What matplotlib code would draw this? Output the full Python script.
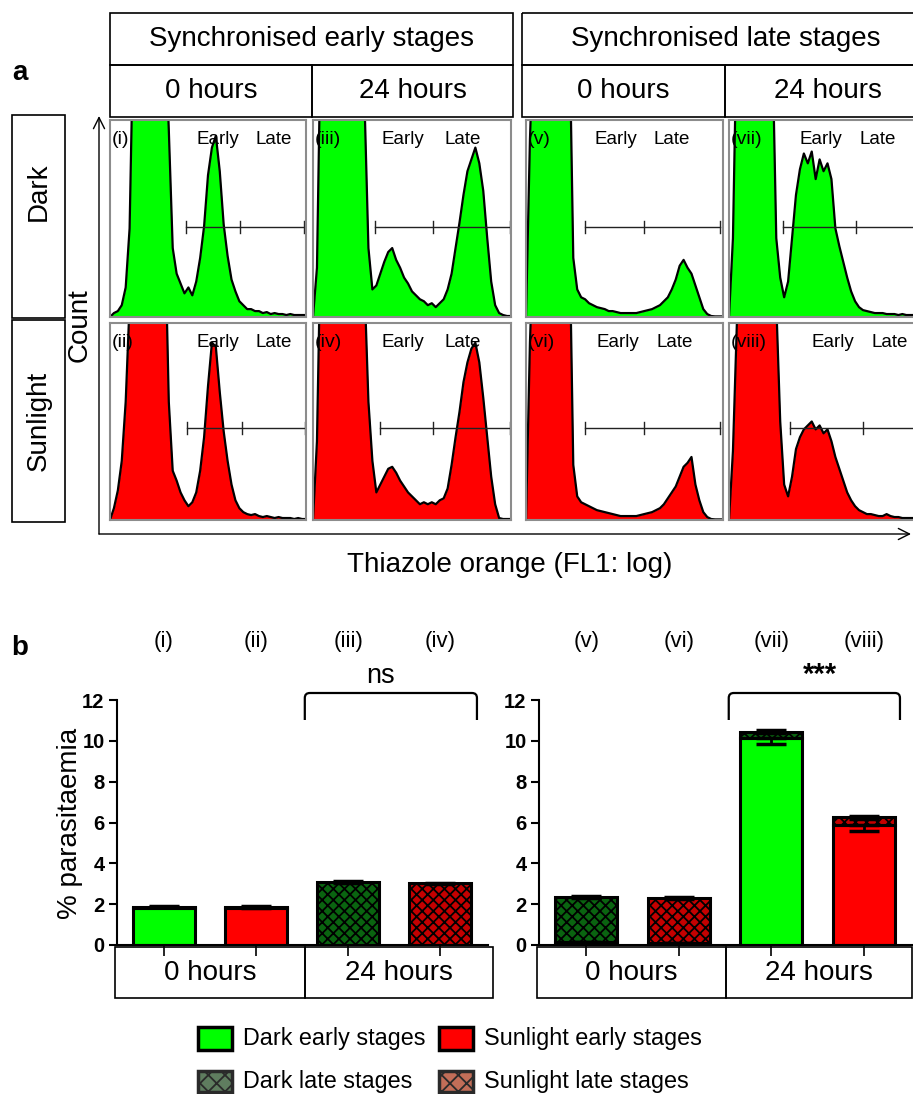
import numpy as np
import matplotlib

matplotlib.use("Agg")
import matplotlib.pyplot as plt
import matplotlib.transforms as mtransforms
from matplotlib.patches import Rectangle, PathPatch
from matplotlib.path import Path

plt.rcParams["font.family"] = ["Liberation Sans", "DejaVu Sans"]
plt.rcParams["hatch.linewidth"] = 1.3

# ---------------------------------------------------------------- data
# flow histograms, % of panel height per FL1 channel (values > 100 are off-scale)
CHANNELS = list(range(0, 251, 5))

HIST_I = [0, 2, 3, 6, 15, 45, 150, 150, 150, 150, 150, 150, 150, 150, 150,
          95, 35, 22, 17, 12, 15, 11, 18, 30, 46, 72, 86, 92, 74, 47, 31, 19,
          13, 8, 6, 4, 4, 3, 3, 2, 2.5, 1.5, 2, 1.5, 1.5, 1, 1.5, 1, 1, 1, 1]
HIST_II = [0, 6, 15, 30, 60, 110, 150, 150, 150, 150, 150, 150, 150, 150, 150,
           60, 25, 20, 14, 10, 7, 9, 14, 25, 42, 68, 90, 88, 65, 45, 30, 18,
           10, 6, 4, 3, 2.5, 3, 2, 1.5, 2, 1.5, 1, 1.5, 1, 1, 1, 0.5, 1, 0.5, 0.5]
HIST_III = [0, 25, 150, 150, 150, 150, 150, 150, 150, 150, 150, 150, 150,
            110, 35, 14, 16, 22, 28, 33, 35, 29, 25, 20, 17, 13, 11, 9, 8, 6,
            7, 5, 7, 9, 14, 22, 35, 48, 62, 74, 80, 86, 78, 64, 40, 18, 6, 2,
            1, 0.5, 0.5]
HIST_IV = [0, 40, 150, 150, 150, 150, 150, 150, 150, 150, 150, 150, 150,
           120, 60, 30, 14, 18, 22, 26, 27, 24, 20, 17, 14, 12, 10, 8, 9, 8,
           9, 8, 10, 11, 16, 28, 42, 55, 70, 80, 87, 90, 80, 62, 42, 22, 8, 1,
           0.5, 0.5, 0.5]
HIST_V = [0, 90, 150, 150, 150, 150, 150, 150, 150, 150, 150, 150,
          30, 14, 10, 9, 7, 6, 5, 4.5, 4, 3, 3, 2.5, 2, 2, 2, 2, 2, 2.5, 3, 3.5,
          4, 5, 6, 8, 10, 14, 19, 26, 29, 25, 22, 16, 10, 4, 1.5, 0.5, 0.3, 0.3,
          0.3]
HIST_VI = [0, 90, 150, 150, 150, 150, 150, 150, 150, 150, 150, 150,
           28, 12, 9, 8, 7, 6, 5, 4.5, 4, 3.5, 3, 2.5, 2, 2, 2, 2, 2, 2.5, 3,
           3.5, 4, 5, 6, 8, 11, 14, 17, 22, 27, 29, 32, 18, 10, 4, 1.5, 0.5,
           0.3, 0.3, 0.3]
HIST_VII = [0, 40, 150, 150, 150, 150, 150, 150, 150, 150, 150,
            140, 40, 20, 10, 18, 40, 62, 75, 83, 78, 84, 70, 80, 74, 78, 70, 45,
            36, 28, 20, 13, 8, 5, 3.5, 3, 2.5, 2, 2, 2, 1.5, 1.5, 1.5, 1, 1.5,
            1, 1, 1, 1, 1, 1]
HIST_VIII = [0, 35, 100, 150, 150, 150, 150, 150, 150, 150, 150, 150,
             110, 50, 18, 12, 22, 36, 42, 46, 48, 50, 46, 48, 44, 46, 40, 32,
             26, 20, 14, 10, 7, 5, 4, 3, 3, 2.5, 2, 2, 3, 2, 1.5, 1.5, 1, 1, 1,
             1, 0.5, 0.5, 0.5]

PANEL_NAMES = ["(i)", "(ii)", "(iii)", "(iv)", "(v)", "(vi)", "(vii)", "(viii)"]
PANEL_HISTS = [HIST_I, HIST_II, HIST_III, HIST_IV, HIST_V, HIST_VI, HIST_VII, HIST_VIII]
# gate channels (early / late regions)
GATE_LO = [97, 98, 78, 85, 75, 75, 69, 77]
GATE_MID = [166, 168, 152, 152, 150, 150, 161, 170]
GATE_HI = [247, 249, 249, 249, 246, 246, 250, 250]
GATE_Y = [45.7, 46.7, 45.7, 46.7, 45.7, 46.7, 45.7, 46.7]

# % parasitaemia bars: early stages at bottom, late stages stacked on top
LEFT_EARLY = [1.82, 1.80, 0.0, 0.0]
LEFT_LATE = [0.05, 0.06, 3.08, 3.03]
LEFT_TOTAL_ERR = [0.02, 0.04, 0.04, 0.03]
RIGHT_EARLY = [0.15, 0.10, 10.15, 5.90]
RIGHT_LATE = [2.20, 2.20, 0.30, 0.35]
RIGHT_TOTAL_ERR = [0.05, 0.05, 0.06, 0.06]
RIGHT_EARLY_ERR = [0.0, 0.0, 0.30, 0.30]

LEFT_LABELS = ["(i)", "(ii)", "(iii)", "(iv)"]
RIGHT_LABELS = ["(v)", "(vi)", "(vii)", "(viii)"]

GREEN = "#00ff00"
RED = "#ff0000"
DKGREEN = "#0a6410"
DKRED = "#c40000"

W, H = 913, 1094
fig = plt.figure(figsize=(W / 100, H / 100), dpi=100)


def px_axes(x0, y0, x1, y1):
    return fig.add_axes([x0 / W, 1 - y1 / H, (x1 - x0) / W, (y1 - y0) / H])


ov = px_axes(0, 0, W, H)
ov.set_xlim(0, W)
ov.set_ylim(H, 0)
ov.axis("off")


def box(x0, y0, x1, y1, text, fs=20, rot=0, ty=None):
    ov.add_patch(Rectangle((x0, y0), x1 - x0, y1 - y0, fill=False, lw=1.2,
                           ec="k", clip_on=False))
    ov.text((x0 + x1) / 2, (y0 + y1) / 2 if ty is None else ty, text,
            fontsize=fs, rotation=rot, ha="center", va="center")


# ---------------------------------------------------------------- panel a
ov.text(20, 73, "a", fontsize=20, fontweight="bold", ha="center", va="center")
box(110, 13, 513, 65, "Synchronised early stages")
box(110, 65, 312, 117, "0 hours")
box(312, 65, 513, 117, "24 hours")
box(522, 13, 930, 65, "Synchronised late stages")
box(522, 65, 725, 117, "0 hours")
box(725, 65, 930, 117, "24 hours")
box(12, 115, 65, 318, "Dark", rot=90, ty=192)
box(12, 320, 65, 522, "Sunlight", rot=90)

arrow = dict(arrowstyle="->", lw=1.0, color="k", mutation_scale=20,
             shrinkA=0, shrinkB=0)
ov.annotate("", xy=(99, 116), xytext=(99, 534), arrowprops=arrow)
ov.annotate("", xy=(911, 534), xytext=(99, 534), arrowprops=arrow)
ov.text(80, 325, "Count", fontsize=20, rotation=90, ha="center", va="center")
ov.text(510, 565, "Thiazole orange (FL1: log)", fontsize=20, ha="center",
        va="center")

cols = [(110, 306), (313, 511), (526, 723), (729, 926)]
rows = [(120, 317), (323, 520)]
EARLY_X = [138, 138, 114, 114, 114, 117, 117, 132]
LATE_X = [209, 209, 189, 189, 185, 189, 189, 204]

for i, hist in enumerate(PANEL_HISTS):
    cx, ry = cols[i // 2], rows[i % 2]
    ax = px_axes(cx[0], ry[0], cx[1], ry[1])
    color = GREEN if i % 2 == 0 else RED
    ax.fill_between(CHANNELS, hist, color=color, lw=0)
    ax.plot(CHANNELS, hist, color="k", lw=1.6)
    ax.set_xlim(0, 250)
    ax.set_ylim(0, 100)
    ax.set_xticks([])
    ax.set_yticks([])
    for s in ax.spines.values():
        s.set_color("#8c8c8c")
        s.set_linewidth(1.5)
    gy = GATE_Y[i]
    ax.plot([GATE_LO[i], GATE_HI[i]], [gy, gy], color="#222", lw=1.0)
    for gx in (GATE_LO[i], GATE_MID[i], GATE_HI[i]):
        ax.plot([gx, gx], [gy - 3, gy + 3], color="#222", lw=1.0)
    ax.text(2, 90, PANEL_NAMES[i], fontsize=14, ha="left", va="center")
    ax.text(EARLY_X[i], 90, "Early", fontsize=13.5, ha="center", va="center")
    ax.text(LATE_X[i], 90, "Late", fontsize=13.5, ha="center", va="center")

# ---------------------------------------------------------------- panel b
ov.text(20, 648, "b", fontsize=20, fontweight="bold", ha="center", va="center")


def bar_panel(rect, early, late, total_err, early_err, early_cols, late_cols,
              labels, bracket, star, star_x, star_kw):
    ax = px_axes(*rect)
    ax.patch.set_visible(False)
    x = np.arange(4)
    total = [e + l for e, l in zip(early, late)]
    ax.bar(x, early, width=0.67, color=early_cols, edgecolor="k", linewidth=2.2,
           zorder=2)
    ax.bar(x, late, bottom=early, width=0.67, color=late_cols, edgecolor="k",
           linewidth=2.2, hatch="xxx", zorder=2)
    ax.errorbar(x, total, yerr=total_err, fmt="none", ecolor="k",
                elinewidth=2, capsize=11, capthick=2.5, zorder=3)
    if early_err is not None:
        ax.errorbar(x, early, yerr=[early_err, [0] * 4], fmt="none", ecolor="k",
                    elinewidth=2, capsize=11, capthick=2.5, zorder=3)
    ax.set_xlim(-0.51, 3.52)
    ax.set_ylim(0, 12)
    ax.set_yticks(range(0, 13, 2))
    ax.set_xticks(x)
    ax.set_xticklabels([])
    for lab in ax.get_yticklabels():
        lab.set_fontweight("bold")
        lab.set_fontsize(14.5)
    ax.tick_params(axis="y", direction="out", length=6, width=1.5, pad=3)
    ax.tick_params(axis="x", direction="out", length=8, width=1.2)
    for s in ("top", "right"):
        ax.spines[s].set_visible(False)
    for s in ("left", "bottom"):
        ax.spines[s].set_linewidth(1.5)

    # labels and bracket: x in data units, y in figure pixels
    tr = mtransforms.blended_transform_factory(ax.transData, ov.transData)
    for xi, lab in zip(x, labels):
        ov.text(xi, 642, lab, fontsize=16, ha="center", va="center",
                transform=tr)
    x0, x1 = bracket
    yt, yb, r = 693, 720, 5
    rx = r / (ax.bbox.width / (3.52 + 0.51))
    verts = [(x0, yb), (x0, yt + r), (x0, yt), (x0 + rx, yt), (x1 - rx, yt),
             (x1, yt), (x1, yt + r), (x1, yb)]
    codes = [Path.MOVETO, Path.LINETO, Path.CURVE3, Path.CURVE3, Path.LINETO,
             Path.CURVE3, Path.CURVE3, Path.LINETO]
    ov.add_patch(PathPatch(Path(verts, codes), fill=False, lw=1.6, ec="k",
                           transform=tr, clip_on=False))
    ov.text(star_x, 683, star, ha="center", va="baseline", transform=tr,
            **star_kw)
    return ax


left = bar_panel((117, 700, 488, 945), LEFT_EARLY, LEFT_LATE, LEFT_TOTAL_ERR,
                 None, [GREEN, RED, GREEN, RED], [DKGREEN, DKRED, DKGREEN, DKRED],
                 LEFT_LABELS, (1.53, 3.40), "ns", 2.35, dict(fontsize=19.5))
right = bar_panel((539, 700, 912, 945), RIGHT_EARLY, RIGHT_LATE,
                  RIGHT_TOTAL_ERR, RIGHT_EARLY_ERR,
                  [GREEN, RED, GREEN, RED], [DKGREEN, DKRED, DKGREEN, DKRED],
                  RIGHT_LABELS, (1.54, 3.39), "***", 2.52,
                  dict(fontsize=21, fontweight="bold"))
ov.text(70, 823, "% parasitaemia", fontsize=20, rotation=90, ha="center",
        va="center")

# time-point boxes under the bar charts
box(115, 947, 305, 998, "0 hours")
box(305, 947, 493, 998, "24 hours")
box(537, 947, 726, 998, "0 hours")
box(726, 947, 912, 998, "24 hours")

# legend
legend_items = [
    (198, 1027, 23, GREEN, "k", None, "Dark early stages"),
    (439, 1027, 23, RED, "k", None, "Sunlight early stages"),
    (198, 1071, 21, "#5f7d5f", "#2a2a2a", "xx", "Dark late stages"),
    (439, 1071, 21, "#c26e58", "#2a2a2a", "xx", "Sunlight late stages"),
]
for lx, ly, lh, fc, ec, hatch, text in legend_items:
    ov.add_patch(Rectangle((lx, ly), 34, lh, facecolor=fc, edgecolor=ec,
                           lw=2.5, hatch=hatch))
    ov.text(lx + 45, ly + lh / 2, text, fontsize=16.8, ha="left", va="center")

fig.savefig("out.png", dpi=100)
